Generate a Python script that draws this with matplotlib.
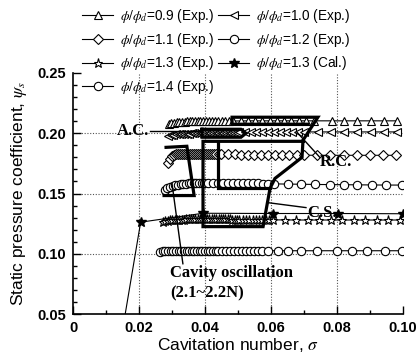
import matplotlib
matplotlib.use("Agg")
import matplotlib.pyplot as plt
from matplotlib.ticker import MultipleLocator, FixedLocator, FixedFormatter

plt.rcParams['font.family'] = ['Liberation Sans', 'DejaVu Sans']
plt.rcParams['mathtext.fontset'] = 'stix'

# ---------------- data ----------------
s09 = [0.0290, 0.0298, 0.0306, 0.0314, 0.0322, 0.0330, 0.0338, 0.0346, 0.0354, 0.0362,
       0.0370, 0.0378, 0.0386, 0.0394, 0.0402, 0.0411, 0.0420, 0.0430, 0.0440, 0.0451,
       0.0462, 0.0474, 0.0486, 0.0508, 0.0530, 0.0552, 0.0574, 0.0596, 0.0618, 0.0640,
       0.0662, 0.0684, 0.0706, 0.0730, 0.0785, 0.0822, 0.0862, 0.0902, 0.0942, 0.0982]
y09 = [0.2075, 0.2082, 0.2087, 0.2091, 0.2094, 0.2096, 0.2097, 0.2098, 0.2098, 0.2099,
       0.2099, 0.2100, 0.2100, 0.2100, 0.2101, 0.2101, 0.2101, 0.2101, 0.2102, 0.2102,
       0.2102, 0.2102, 0.2102, 0.2102, 0.2103, 0.2103, 0.2103, 0.2103, 0.2103, 0.2103,
       0.2103, 0.2103, 0.2103, 0.2103, 0.2103, 0.2103, 0.2103, 0.2103, 0.2103, 0.2103]

s10 = [0.0288, 0.0296, 0.0304, 0.0312, 0.0320, 0.0328, 0.0336, 0.0344, 0.0352, 0.0360,
       0.0368, 0.0376, 0.0384, 0.0392, 0.0400, 0.0408, 0.0416, 0.0424, 0.0432, 0.0440,
       0.0448, 0.0456, 0.0464, 0.0472, 0.0480, 0.0488, 0.0496, 0.0504, 0.0520, 0.0538,
       0.0556, 0.0574, 0.0592, 0.0610, 0.0628, 0.0646, 0.0664, 0.0682, 0.0700, 0.0742,
       0.0782, 0.0822, 0.0862, 0.0902, 0.0942, 0.0982]
y10 = [0.1978, 0.1983, 0.1987, 0.1990, 0.1992, 0.1994, 0.1995, 0.1996, 0.1997, 0.1998,
       0.1999, 0.2000, 0.2000, 0.2001, 0.2001, 0.2002, 0.2002, 0.2003, 0.2003, 0.2004,
       0.2004, 0.2005, 0.2005, 0.2005, 0.2006, 0.2006, 0.2006, 0.2007, 0.2008, 0.2008,
       0.2009, 0.2009, 0.2010, 0.2010, 0.2010, 0.2011, 0.2011, 0.2011, 0.2011, 0.2011,
       0.2011, 0.2011, 0.2011, 0.2011, 0.2011, 0.2011]

s11 = [0.0288, 0.0294, 0.0300, 0.0306, 0.0312, 0.0318, 0.0324, 0.0330, 0.0336, 0.0342,
       0.0348, 0.0354, 0.0360, 0.0366, 0.0372, 0.0378, 0.0384, 0.0390, 0.0396, 0.0402,
       0.0408, 0.0414, 0.0420, 0.0427, 0.0434, 0.0441, 0.0450, 0.0470, 0.0490, 0.0510,
       0.0530, 0.0550, 0.0570, 0.0590, 0.0612, 0.0634, 0.0656, 0.0678, 0.0700, 0.0740,
       0.0780, 0.0820, 0.0860, 0.0900, 0.0940, 0.0980]
y11 = [0.1750, 0.1790, 0.1812, 0.1820, 0.1824, 0.1826, 0.1827, 0.1828, 0.1828, 0.1828,
       0.1828, 0.1828, 0.1828, 0.1828, 0.1828, 0.1828, 0.1828, 0.1828, 0.1828, 0.1828,
       0.1828, 0.1828, 0.1828, 0.1828, 0.1828, 0.1828, 0.1826, 0.1825, 0.1824, 0.1823,
       0.1822, 0.1821, 0.1820, 0.1820, 0.1819, 0.1819, 0.1818, 0.1818, 0.1818, 0.1817,
       0.1817, 0.1817, 0.1817, 0.1817, 0.1817, 0.1817]

s12 = [0.0278, 0.0286, 0.0294, 0.0302, 0.0310, 0.0318, 0.0326, 0.0334, 0.0342, 0.0350,
       0.0358, 0.0366, 0.0374, 0.0382, 0.0390, 0.0398, 0.0410, 0.0425, 0.0440, 0.0455,
       0.0470, 0.0485, 0.0500, 0.0515, 0.0530, 0.0545, 0.0560, 0.0575, 0.0590, 0.0610,
       0.0650, 0.0690, 0.0733, 0.0780, 0.0820, 0.0860, 0.0906, 0.0950, 0.0997]
y12 = [0.1525, 0.1545, 0.1555, 0.1563, 0.1569, 0.1573, 0.1577, 0.1580, 0.1582, 0.1584,
       0.1585, 0.1586, 0.1587, 0.1588, 0.1588, 0.1588, 0.1588, 0.1588, 0.1588, 0.1587,
       0.1587, 0.1586, 0.1586, 0.1585, 0.1585, 0.1584, 0.1583, 0.1582, 0.1581, 0.1580,
       0.1578, 0.1577, 0.1575, 0.1574, 0.1573, 0.1572, 0.1571, 0.1570, 0.1570]

s13e = [0.0273, 0.0280, 0.0287, 0.0294, 0.0301, 0.0308, 0.0315, 0.0322, 0.0329, 0.0336,
        0.0343, 0.0350, 0.0357, 0.0364, 0.0371, 0.0378, 0.0385, 0.0392, 0.0399, 0.0406,
        0.0413, 0.0420, 0.0427, 0.0434, 0.0441, 0.0448, 0.0455, 0.0462, 0.0469, 0.0476,
        0.0483, 0.0490, 0.0497, 0.0504, 0.0514, 0.0524, 0.0534, 0.0544, 0.0554, 0.0564,
        0.0574, 0.0584, 0.0594, 0.0606, 0.0641, 0.0676, 0.0711, 0.0746, 0.0781, 0.0816,
        0.0851, 0.0886, 0.0921, 0.0956, 0.0991]
y13e = [0.1262, 0.1270, 0.1275, 0.1278, 0.1280, 0.1281, 0.1282, 0.1283, 0.1284, 0.1284,
        0.1285, 0.1285, 0.1285, 0.1285, 0.1285, 0.1285, 0.1285, 0.1285, 0.1285, 0.1285,
        0.1285, 0.1285, 0.1285, 0.1285, 0.1285, 0.1285, 0.1285, 0.1285, 0.1285, 0.1285,
        0.1284, 0.1284, 0.1284, 0.1284, 0.1283, 0.1283, 0.1283, 0.1283, 0.1282, 0.1282,
        0.1282, 0.1282, 0.1281, 0.1281, 0.1281, 0.1280, 0.1280, 0.1280, 0.1280, 0.1280,
        0.1280, 0.1280, 0.1280, 0.1280, 0.1280]

s13c = [0.0149, 0.0205, 0.0394, 0.0606, 0.0803, 0.1000]
y13c = [0.0350, 0.1262, 0.1336, 0.1334, 0.1334, 0.1332]

s14 = [0.0264, 0.0272, 0.0280, 0.0288, 0.0296, 0.0304, 0.0312, 0.0320, 0.0328, 0.0336,
       0.0344, 0.0352, 0.0360, 0.0368, 0.0376, 0.0384, 0.0392, 0.0400, 0.0408, 0.0416,
       0.0424, 0.0432, 0.0440, 0.0452, 0.0464, 0.0476, 0.0488, 0.0500, 0.0512, 0.0524,
       0.0536, 0.0548, 0.0560, 0.0572, 0.0590, 0.0620, 0.0650, 0.0690, 0.0740, 0.0800,
       0.0845, 0.0890, 0.0945, 0.0997]
y14 = [0.1018, 0.1020, 0.1021, 0.1022, 0.1023, 0.1023, 0.1024, 0.1024, 0.1024, 0.1025,
       0.1025, 0.1025, 0.1025, 0.1025, 0.1025, 0.1025, 0.1025, 0.1025, 0.1025, 0.1025,
       0.1025, 0.1025, 0.1025, 0.1025, 0.1025, 0.1025, 0.1025, 0.1025, 0.1025, 0.1025,
       0.1025, 0.1025, 0.1025, 0.1025, 0.1025, 0.1025, 0.1025, 0.1025, 0.1025, 0.1025,
       0.1025, 0.1025, 0.1025, 0.1025]

labels = [r'$\phi/\phi_d$=0.9 (Exp.)', r'$\phi/\phi_d$=1.0 (Exp.)',
          r'$\phi/\phi_d$=1.1 (Exp.)', r'$\phi/\phi_d$=1.2 (Exp.)',
          r'$\phi/\phi_d$=1.3 (Exp.)', r'$\phi/\phi_d$=1.3 (Cal.)',
          r'$\phi/\phi_d$=1.4 (Exp.)']

# region boundaries (data coords)
rc_x = [0.0712, 0.0482, 0.0482, 0.0742, 0.0697, 0.0694, 0.0612, 0.0597, 0.0576, 0.0394, 0.0394, 0.0697]
rc_y = [0.2075, 0.2075, 0.2133, 0.2133, 0.1942, 0.1800, 0.1625, 0.1542, 0.1225, 0.1225, 0.1933, 0.1933]
rc2_x = [0.0439, 0.0439, 0.0597]
rc2_y = [0.1917, 0.1542, 0.1542]
ac_x = [0.0391, 0.0509, 0.0524, 0.0509, 0.0391, 0.0391]
ac_y = [0.2033, 0.2033, 0.2000, 0.1967, 0.1967, 0.2033]
co_x = [0.0282, 0.0345, 0.0367, 0.0276]
co_y = [0.1883, 0.1892, 0.1483, 0.1483]

x_ticks = [0, 0.02, 0.04, 0.06, 0.08, 0.10]
x_ticklabels = ['0', '0.02', '0.04', '0.06', '0.08', '0.10']
y_ticks = [0.05, 0.10, 0.15, 0.20, 0.25]
y_ticklabels = ['0.05', '0.10', '0.15', '0.20', '0.25']

# ---------------- figure ----------------
fig = plt.figure(figsize=(4.2, 3.56), dpi=100)
ax = fig.add_axes([73/420, 1-314/356, 330/420, 241/356])

lw = 0.8
ms = 6
kw = dict(color='black', lw=lw, mec='black', mfc='white', mew=0.8, ms=ms)
h09, = ax.plot(s09, y09, marker='^', **kw)
h10, = ax.plot(s10, y10, marker='<', **kw)
h11, = ax.plot(s11, y11, marker='D', **dict(kw, ms=5.5))
h12, = ax.plot(s12, y12, marker='o', **kw)
h13e, = ax.plot(s13e, y13e, marker='*', **dict(kw, ms=6.5))
h13c, = ax.plot(s13c, y13c, marker='*', color='black', lw=lw, mec='black', mfc='black', ms=7, zorder=4)
h14, = ax.plot(s14, y14, marker='o', **kw)

tk = 2.3
for xs, ys in [(rc_x, rc_y), (rc2_x, rc2_y), (ac_x, ac_y), (co_x, co_y)]:
    ax.plot(xs, ys, color='black', lw=tk, zorder=5, solid_joinstyle='miter')

# pointer lines
ax.plot([0.0233, 0.0391], [0.2017, 0.2017], color='black', lw=1, zorder=5)
ax.plot([0.0679, 0.0748], [0.2008, 0.1800], color='black', lw=1, zorder=5)
ax.plot([0.0588, 0.0706], [0.1425, 0.1383], color='black', lw=1, zorder=5)
ax.plot([0.0300, 0.0333], [0.1583, 0.0917], color='black', lw=1, zorder=5)

tfont = dict(family='Liberation Serif', weight='bold', fontsize=12)
ax.text(0.0230, 0.2017, 'A.C.', ha='right', va='center', **tfont)
ax.text(0.0748, 0.1760, 'R.C.', ha='left', va='center', **tfont)
ax.text(0.0709, 0.1340, 'C.S.', ha='left', va='center', **tfont)
ax.text(0.0294, 0.0803, 'Cavity oscillation', ha='left', va='baseline', **tfont)
ax.text(0.0294, 0.0636, '(2.1~2.2N)', ha='left', va='baseline', **tfont)

ax.set_xlim(0, 0.10)
ax.set_ylim(0.05, 0.25)
ax.xaxis.set_major_locator(FixedLocator(x_ticks))
ax.xaxis.set_major_formatter(FixedFormatter(x_ticklabels))
ax.yaxis.set_major_locator(FixedLocator(y_ticks))
ax.yaxis.set_major_formatter(FixedFormatter(y_ticklabels))
ax.xaxis.set_minor_locator(MultipleLocator(0.01))
ax.yaxis.set_minor_locator(MultipleLocator(0.01))
ax.tick_params(which='both', direction='in', width=1)
ax.tick_params(which='major', length=6, labelsize=10.5, pad=5)
ax.tick_params(which='minor', length=3)
for lab in ax.get_xticklabels() + ax.get_yticklabels():
    lab.set_fontweight('bold')
for s in ['top', 'right']:
    ax.spines[s].set_visible(False)
for s in ['left', 'bottom']:
    ax.spines[s].set_linewidth(1.2)

for gx in [0.02, 0.04, 0.06, 0.08]:
    ax.axvline(gx, color='#555555', lw=0.8, ls=(0, (1, 1.5)), zorder=0)
for gy in [0.10, 0.15, 0.20]:
    ax.axhline(gy, color='#555555', lw=0.8, ls=(0, (1, 1.5)), zorder=0)

ax.set_xlabel(r'Cavitation number, $\sigma$', fontsize=12.5, labelpad=1)
ax.set_ylabel(r'Static pressure coefficient, $\psi_s$', fontsize=12.5, labelpad=6)

handles = [h09, h11, h13e, h14, h10, h12, h13c]
labs = [labels[0], labels[2], labels[4], labels[6], labels[1], labels[3], labels[5]]
ax.legend(handles, labs, ncol=2, loc='upper left', bbox_to_anchor=(82/420, 1-7/356),
          bbox_transform=fig.transFigure, frameon=False, fontsize=9.8, handlelength=2.3,
          handletextpad=0.5, columnspacing=0.25, labelspacing=0.42, borderpad=0,
          borderaxespad=0, numpoints=1)

fig.savefig('out.png', dpi=100)
